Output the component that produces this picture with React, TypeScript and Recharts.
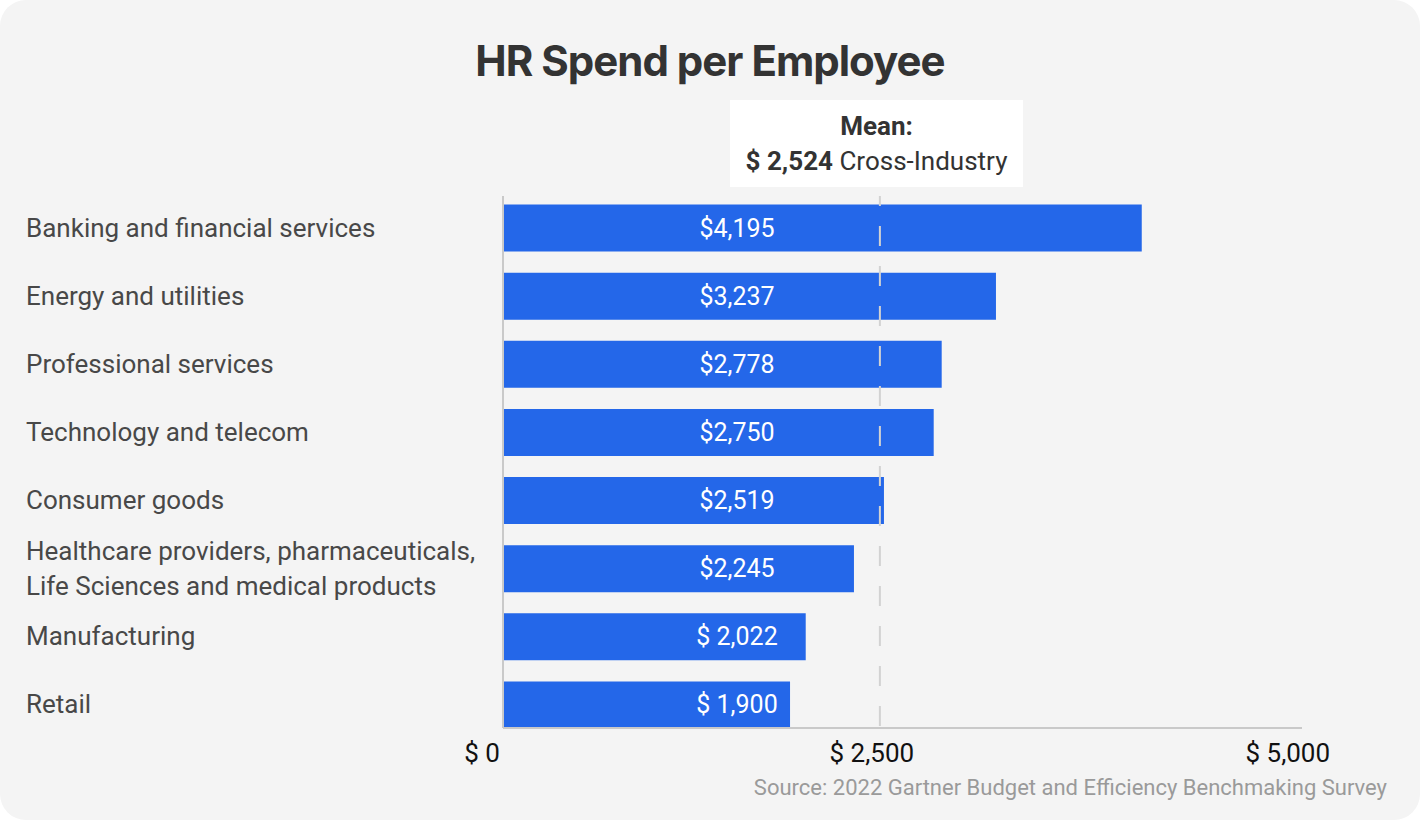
import React from 'react';
import { BarChart, Bar, XAxis, YAxis, ReferenceLine, LabelList } from 'recharts';

const CATEGORIES = [
  'Banking and financial services',
  'Energy and utilities',
  'Professional services',
  'Technology and telecom',
  'Consumer goods',
  'Healthcare providers, pharmaceuticals,\nLife Sciences and medical products',
  'Manufacturing',
  'Retail',
];
// bar lengths as drawn in the picture
const SPEND = [4237, 3270, 2910, 2857, 2527, 2328, 2008, 1904];
const SPEND_LABELS = ['$4,195', '$3,237', '$2,778', '$2,750', '$2,519', '$2,245', '$ 2,022', '$ 1,900'];
const X_TICKS = [0, 2500, 5000];
const X_TICK_LABELS = ['$ 0', '$ 2,500', '$ 5,000'];
const MEAN_MARK = 2500;

const data = CATEGORIES.map((name, i) => ({ name, spend: SPEND[i], label: SPEND_LABELS[i] }));

const FONT = 'Roboto, "Noto Sans", sans-serif';
const TICK_SHIFT = [-21, -8, 31];

const CategoryTick = (props: any) => {
  const { y, payload } = props;
  const lines = String(payload.value).split('\n');
  const start = y - ((lines.length - 1) * 35) / 2;
  return (
    <text x={26} y={start} fill="#484848" fontSize={26} fontFamily={FONT} dominantBaseline="central">
      {lines.map((l, i) => (
        <tspan key={i} x={26} y={start + i * 35}>
          {l}
        </tspan>
      ))}
    </text>
  );
};

const MoneyTick = (props: any) => {
  const { x, y, index } = props;
  return (
    <text x={x + TICK_SHIFT[index]} y={y + 17} fill="#111" fontSize={26} fontFamily={FONT} textAnchor="middle" dominantBaseline="central">
      {X_TICK_LABELS[index]}
    </text>
  );
};

const BarValue = (props: any) => {
  const { x, y, height, index } = props;
  return (
    <text x={x + 234} y={y + height / 2} fill="#fff" fontSize={25} fontFamily={FONT} textAnchor="middle" dominantBaseline="central">
      {SPEND_LABELS[index]}
    </text>
  );
};

export default function App() {
  return (
    <div style={{ position: 'absolute', left: 0, top: 0, width: 1420, height: 820, background: '#fff' }}>
      <div style={{ position: 'absolute', inset: 0, background: '#f4f4f4', borderRadius: 26 }} />
      <div
        style={{
          position: 'absolute',
          left: 0,
          top: 36,
          width: 1420,
          textAlign: 'center',
          fontFamily: 'Inter, sans-serif',
          fontWeight: 700,
          fontSize: 42,
          letterSpacing: -1,
          lineHeight: '50px',
          color: '#333',
        }}
      >
        HR Spend per Employee
      </div>
      <div style={{ position: 'absolute', left: 0, top: 0 }}>
        <BarChart width={1420} height={820} data={data} layout="vertical" margin={{ top: 196, right: 118, bottom: 52, left: 23 }}>
          <XAxis
            type="number"
            domain={[0, 5300]}
            ticks={X_TICKS}
            tick={<MoneyTick />}
            tickLine={false}
            axisLine={{ stroke: '#c9c9c9', strokeWidth: 2 }}
            height={40}
            interval={0}
          />
          <YAxis
            type="category"
            dataKey="name"
            width={480}
            tick={<CategoryTick />}
            tickLine={false}
            axisLine={{ stroke: '#c9c9c9', strokeWidth: 2 }}
            padding={{ top: -2.5, bottom: -10.5 }}
            interval={0}
          />
          <Bar dataKey="spend" fill="#2467e9" barSize={47} isAnimationActive={false}>
            <LabelList dataKey="label" content={<BarValue />} />
          </Bar>
          <ReferenceLine x={MEAN_MARK} stroke="#d2d2d2" strokeWidth={2} strokeDasharray="20 20" strokeDashoffset={38} />
        </BarChart>
      </div>
      <div
        style={{
          position: 'absolute',
          left: 730,
          top: 100,
          width: 293,
          height: 87,
          background: '#fff',
          fontFamily: FONT,
          fontSize: 26,
          color: '#333',
          textAlign: 'center',
          lineHeight: '35px',
          paddingTop: 9,
          boxSizing: 'border-box',
        }}
      >
        <div style={{ fontWeight: 700 }}>Mean:</div>
        <div>
          <b>$ 2,524</b> Cross-Industry
        </div>
      </div>
      <div
        style={{
          position: 'absolute',
          right: 33,
          top: 774,
          fontFamily: FONT,
          fontSize: 22,
          color: '#9a9a9a',
          lineHeight: '28px',
        }}
      >
        Source: 2022 Gartner Budget and Efficiency Benchmaking Survey
      </div>
    </div>
  );
}
